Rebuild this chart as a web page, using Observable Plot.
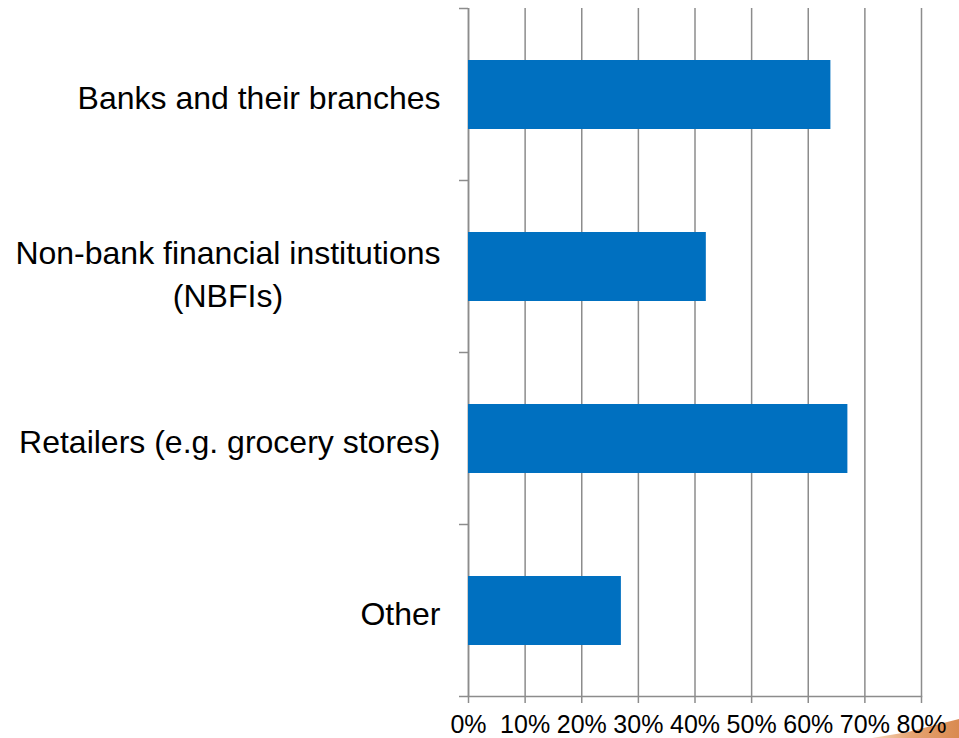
<!DOCTYPE html>
<html>
<head>
<meta charset="utf-8">
<script src="https://cdn.jsdelivr.net/npm/d3@7"></script>
<script src="https://cdn.jsdelivr.net/npm/@observablehq/plot@0.6"></script>
<style>
  html, body { margin: 0; padding: 0; background: #ffffff; }
  #wrap { position: relative; width: 959px; height: 738px; overflow: hidden; background: #fff; }
  #swoosh {
    position: absolute; left: 872px; top: 719px; width: 87px; height: 19px; z-index: 0;
    background: linear-gradient(90deg, #f6d6bb 0%, #e6a472 45%, #d98a50 100%);
    clip-path: polygon(0% 100%, 40% 70%, 100% 0%, 100% 100%);
  }
  #chart { position: absolute; left: 0; top: 0; z-index: 1; }
</style>
</head>
<body>
<div id="wrap"><div id="swoosh"></div><div id="chart"></div></div>
<script>
const categories = [
  "Banks and their branches",
  "Non-bank financial institutions\n(NBFIs)",
  "Retailers (e.g. grocery stores)",
  "Other"
];
const shares = [64, 42, 67, 27];
const xTicks = [0, 10, 20, 30, 40, 50, 60, 70, 80];
const xTickLabels = ["0%", "10%", "20%", "30%", "40%", "50%", "60%", "70%", "80%"];

const data = categories.map((c, i) => ({category: c, value: shares[i]}));
const gridColor = "#8c8c8c";

function boundaryTicks(index, scales) {
  const y = scales.y, x = scales.x;
  const step = y.step(), bw = y.bandwidth();
  const x0 = x(0);
  const g = d3.create("svg:g").attr("stroke", gridColor).attr("stroke-width", 1.5);
  const ys = categories.map(c => y(c) - (step - bw) / 2);
  ys.push(ys[ys.length - 1] + step);
  for (const yy of ys) {
    g.append("line").attr("x1", x0 - 9).attr("x2", x0).attr("y1", yy).attr("y2", yy);
  }
  return g.node();
}

const chart = Plot.plot({
  width: 959,
  height: 738,
  marginTop: 8,
  marginBottom: 42,
  marginLeft: 468,
  marginRight: 38,
  style: {fontFamily: "'Liberation Sans', Arial, sans-serif", color: "#000", background: "transparent", overflow: "visible"},
  x: {domain: [0, 80]},
  y: {domain: categories, paddingInner: 0.6, paddingOuter: 0.3},
  marks: [
    Plot.gridX(xTicks, {stroke: gridColor, strokeOpacity: 1, strokeWidth: 1.5}),
    Plot.ruleX([0], {stroke: gridColor, strokeWidth: 1.5}),
    Plot.frame({anchor: "bottom", stroke: gridColor, strokeWidth: 1.5}),
    boundaryTicks,
    Plot.barX(data, {x: "value", y: "category", fill: "#0070C0"}),
    Plot.axisX({
      ticks: xTicks,
      tickFormat: d => xTickLabels[xTicks.indexOf(d)],
      tickSize: 7,
      tickPadding: 12,
      fontSize: 25,
      stroke: gridColor,
      strokeWidth: 1.5,
      fill: "#000",
      label: null
    }),
    Plot.axisY({
      tickSize: 0,
      tickPadding: 28,
      fontSize: 32,
      lineHeight: 1.34,
      fill: "#000",
      label: null
    })
  ]
});

document.getElementById("chart").appendChild(chart);

// Center the lines of multi-line category labels relative to each other (right-aligned block)
chart.querySelectorAll('g[aria-label="y-axis tick label"] text').forEach(t => {
  const spans = t.querySelectorAll("tspan");
  if (spans.length > 1) {
    const widths = Array.from(spans, s => s.getComputedTextLength());
    const maxW = Math.max(...widths);
    spans.forEach((s, i) => s.setAttribute("x", (widths[i] - maxW) / 2));
    t.setAttribute("transform", (t.getAttribute("transform") || "") + " translate(0,5)");
  }
});
</script>
</body>
</html>
